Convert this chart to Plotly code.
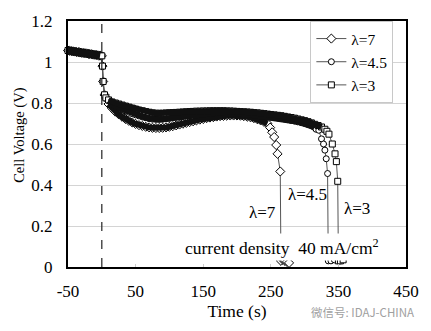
import plotly.graph_objects as go

# ---- data ----
t_pre = [-50, -47.5, -45, -42.5, -40, -37.5, -35, -32.5, -30, -27.5, -25, -22.5, -20,
         -17.5, -15, -12.5, -10, -7.5, -5, -2.5, 0, 1, 2, 4, 6]
v_pre = [1.056, 1.055, 1.053, 1.052, 1.051, 1.049, 1.048, 1.047, 1.045, 1.044, 1.043,
         1.042, 1.040, 1.039, 1.038, 1.036, 1.035, 1.034, 1.032, 1.031, 1.030,
         0.980, 0.905, 0.840, 0.825]

t_l7 = [10, 15, 20, 25, 30, 35, 40, 45, 50, 55, 60, 65, 70, 75, 80, 85, 90, 95, 100,
        105, 110, 115, 120, 125, 130, 135, 140, 145, 150, 155, 160, 165, 170, 175, 180,
        185, 190, 195, 200, 205, 210, 215, 220, 225, 230, 235, 240, 245, 249, 252, 255,
        258, 260, 264, 265, 268, 271, 274, 277]
v_l7 = [0.795, 0.775, 0.758, 0.745, 0.733, 0.722, 0.713, 0.705, 0.698, 0.692, 0.688,
        0.684, 0.681, 0.679, 0.678, 0.678, 0.679, 0.681, 0.684, 0.687, 0.691, 0.695,
        0.699, 0.703, 0.707, 0.711, 0.715, 0.719, 0.722, 0.726, 0.729, 0.731, 0.734,
        0.736, 0.737, 0.738, 0.739, 0.739, 0.739, 0.738, 0.736, 0.733, 0.730, 0.726,
        0.721, 0.715, 0.708, 0.700, 0.680, 0.657, 0.634, 0.595, 0.552, 0.466, 0.030,
        0.035, 0.030, 0.025, 0.020]

t_l45 = [10, 15, 20, 25, 30, 35, 40, 45, 50, 55, 60, 65, 70, 75, 80, 85, 90, 95, 100,
         105, 110, 115, 120, 125, 130, 135, 140, 145, 150, 155, 160, 165, 170, 175, 180,
         185, 190, 195, 200, 205, 210, 215, 220, 225, 230, 235, 240, 245, 250, 255, 260,
         265, 270, 275, 280, 285, 290, 295, 300, 305, 310, 314, 317, 321, 325, 328, 330,
         332, 334, 335, 339, 344]
v_l45 = [0.810, 0.795, 0.785, 0.777, 0.770, 0.762, 0.755, 0.748, 0.742, 0.737, 0.732,
         0.728, 0.724, 0.721, 0.720, 0.720, 0.721, 0.723, 0.725, 0.728, 0.731, 0.734,
         0.737, 0.740, 0.742, 0.744, 0.746, 0.748, 0.749, 0.750, 0.751, 0.752, 0.752,
         0.752, 0.752, 0.752, 0.751, 0.750, 0.749, 0.748, 0.746, 0.745, 0.743, 0.741,
         0.739, 0.737, 0.735, 0.733, 0.731, 0.729, 0.727, 0.725, 0.722, 0.719, 0.715,
         0.712, 0.708, 0.704, 0.700, 0.695, 0.690, 0.682, 0.672, 0.667, 0.625, 0.600,
         0.570, 0.528, 0.456, 0.030, 0.030, 0.035]

t_l3 = [10, 15, 20, 25, 30, 35, 40, 45, 50, 55, 60, 65, 70, 75, 80, 85, 90, 95, 100,
        105, 110, 115, 120, 125, 130, 135, 140, 145, 150, 155, 160, 165, 170, 175, 180,
        185, 190, 195, 200, 205, 210, 215, 220, 225, 230, 235, 240, 245, 250, 255, 260,
        265, 270, 275, 280, 285, 290, 295, 300, 305, 310, 315, 320, 325, 330, 333, 336,
        341, 345, 347, 349, 350, 353, 357]
v_l3 = [0.815, 0.805, 0.800, 0.795, 0.790, 0.785, 0.780, 0.775, 0.770, 0.765, 0.762,
        0.758, 0.755, 0.752, 0.750, 0.750, 0.750, 0.751, 0.752, 0.753, 0.754, 0.755,
        0.756, 0.757, 0.758, 0.759, 0.760, 0.760, 0.761, 0.761, 0.762, 0.762, 0.762,
        0.762, 0.762, 0.761, 0.761, 0.760, 0.759, 0.758, 0.757, 0.756, 0.755, 0.753,
        0.752, 0.750, 0.748, 0.746, 0.744, 0.742, 0.740, 0.738, 0.735, 0.732, 0.729,
        0.726, 0.722, 0.718, 0.714, 0.709, 0.703, 0.696, 0.690, 0.683, 0.672, 0.662,
        0.648, 0.600, 0.552, 0.514, 0.418, 0.030, 0.030, 0.035]

x_ticks = [-50, 50, 150, 250, 350, 450]
x_tick_text = ["-50", "50", "150", "250", "350", "450"]
y_ticks = [0, 0.2, 0.4, 0.6, 0.8, 1.0, 1.2]
y_tick_text = ["0", "0.2", "0.4", "0.6", "0.8", "1", "1.2"]

# (name, times, volts, marker symbol, marker size, last time of the densely sampled plateau)
series = [
    ("λ=7", t_l7, v_l7, "diamond", 7, 245),
    ("λ=4.5", t_l45, v_l45, "circle", 6, 314),
    ("λ=3", t_l3, v_l3, "square", 6, 328),
]

SERIF = "Liberation Serif"

fig = go.Figure()
# open markers joined by a thin line
for name, t, v, sym, sz, cut in series:
    fig.add_trace(go.Scatter(
        x=t_pre + t, y=v_pre + v, name=name, mode="lines+markers",
        line=dict(color="#555555", width=1),
        marker=dict(symbol=sym, size=sz, color="white",
                    line=dict(color="black", width=1)),
        cliponaxis=False,
    ))
# the densely sampled stretches render as solid black bands of overlapping markers
pre_t = [x for x in t_pre if x <= -2.5]
pre_v = [y for x, y in zip(t_pre, v_pre) if x <= -2.5]
fig.add_trace(go.Scatter(x=pre_t, y=pre_v, mode="lines", showlegend=False,
                         hoverinfo="skip", cliponaxis=False,
                         line=dict(color="#111111", width=7)))
for name, t, v, sym, sz, cut in series:
    bt = [x for x in t if x <= cut]
    bv = [y for x, y in zip(t, v) if x <= cut]
    fig.add_trace(go.Scatter(x=bt, y=bv, mode="lines", showlegend=False,
                             hoverinfo="skip",
                             line=dict(color="#111111", width=6)))

# dashed reference line at t = 0
fig.add_shape(type="line", x0=0, x1=0, y0=0, y1=1, xref="x", yref="paper",
              line=dict(color="#333333", width=1.3, dash="dash"))

fig.add_annotation(x=267, y=0.096, xref="x", yref="y",
                   text="current density  40 mA/cm<sup>2</sup>", showarrow=False,
                   font=dict(family=SERIF, size=17.5, color="black"),
                   bgcolor="white", borderpad=2)
fig.add_annotation(x=261, y=0.264, xref="x", yref="y", xanchor="right",
                   text="λ=7", showarrow=False,
                   font=dict(family=SERIF, size=17, color="black"))
fig.add_annotation(x=273, y=0.355, xref="x", yref="y", xanchor="left",
                   text="λ=4.5", showarrow=False,
                   font=dict(family=SERIF, size=17, color="black"))
fig.add_annotation(x=356, y=0.283, xref="x", yref="y", xanchor="left",
                   text="λ=3", showarrow=False,
                   font=dict(family=SERIF, size=17, color="black"))
fig.add_annotation(x=-0.177, y=0.536, xref="paper", yref="paper",
                   text="Cell Voltage (V)", textangle=-90, showarrow=False,
                   font=dict(family=SERIF, size=14.5, color="black"))
fig.add_annotation(x=1.03, y=-0.184, xref="paper", yref="paper", xanchor="right",
                   yanchor="middle", text="微信号: IDAJ-CHINA", showarrow=False,
                   font=dict(family="Noto Sans CJK SC", size=11.5, color="#a0a0a0"))

fig.update_layout(
    width=431, height=331,
    margin=dict(l=68, r=24, t=17, b=64),
    paper_bgcolor="white", plot_bgcolor="white",
    font=dict(family=SERIF, size=17, color="black"),
    showlegend=True,
    legend=dict(x=0.717, y=1.0, xanchor="left", yanchor="top",
                bgcolor="white", bordercolor="#c8c8c8", borderwidth=1,
                font=dict(family=SERIF, size=15.5), itemwidth=30),
    xaxis=dict(range=[-50, 450], tickvals=x_ticks, ticktext=x_tick_text,
               showgrid=False, zeroline=False,
               showline=True, linecolor="black", linewidth=2, mirror=True,
               ticks="inside", ticklen=3, tickcolor="#cccccc", ticklabelstandoff=8,
               title=dict(text="Time (s)", font=dict(family=SERIF, size=17.5), standoff=2),
               tickfont=dict(family=SERIF, size=17)),
    yaxis=dict(range=[0, 1.2], tickvals=y_ticks, ticktext=y_tick_text,
               showgrid=True, gridcolor="#d4d4d4", gridwidth=1, zeroline=False,
               showline=True, linecolor="black", linewidth=2, mirror=True,
               ticks="", ticklabelstandoff=10,
               tickfont=dict(family=SERIF, size=17)),
)

fig.write_html("out.html")
